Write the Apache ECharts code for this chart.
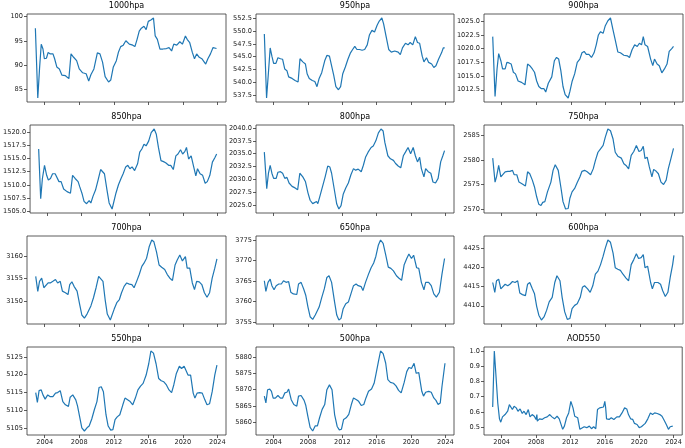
<!DOCTYPE html>
<html><head><meta charset="utf-8">
<script src="https://cdn.jsdelivr.net/npm/echarts@6/dist/echarts.min.js"></script>
<style>html,body{margin:0;padding:0;background:#fff}#c{width:685px;height:448px}</style>
</head><body><div id="c"></div>
<script>
// ---- data: [decimal year, value] ----
const p1000 = [[2002.92,97.6],[2003.2,83.2],[2003.4,89.2],[2003.6,94.3],[2003.8,93.3],[2003.96,91.3],[2004.2,91.4],[2004.4,92.6],[2004.65,92.3],[2004.96,92.3],[2005.15,91.3],[2005.4,89.6],[2005.7,89.2],[2006.0,87.9],[2006.4,87.8],[2006.8,87.2],[2007.05,92.3],[2007.35,91.6],[2007.7,90.9],[2008.0,89.2],[2008.4,88.4],[2008.8,88.2],[2009.1,86.7],[2009.35,88.0],[2009.7,89.2],[2010.1,92.5],[2010.4,92.3],[2010.7,90.6],[2011.0,87.6],[2011.4,86.5],[2011.65,86.9],[2011.95,89.6],[2012.3,90.9],[2012.55,92.7],[2012.8,93.8],[2013.1,94.1],[2013.4,95.0],[2013.8,94.3],[2014.2,94.1],[2014.45,93.8],[2014.7,95.3],[2014.95,97.0],[2015.2,97.6],[2015.5,98.0],[2015.75,97.3],[2016.0,99.0],[2016.3,99.3],[2016.6,99.7],[2016.8,96.0],[2017.05,95.3],[2017.35,93.3],[2017.7,93.3],[2018.1,93.4],[2018.4,93.6],[2018.7,92.9],[2018.95,94.3],[2019.3,94.1],[2019.65,94.8],[2019.95,94.3],[2020.3,96.0],[2020.5,95.3],[2020.8,94.6],[2021.1,92.6],[2021.35,91.3],[2021.6,92.3],[2021.9,91.6],[2022.2,91.3],[2022.4,91.1],[2022.65,90.2],[2022.9,91.3],[2023.2,92.3],[2023.5,93.6],[2023.7,94.0],[2023.9,93.4]];
const p950 = [[2002.92,549.4],[2003.18,537.0],[2003.4,542.0],[2003.6,546.7],[2003.8,545.1],[2004.0,543.7],[2004.27,543.7],[2004.5,544.8],[2004.8,544.6],[2005.05,544.5],[2005.3,542.6],[2005.55,542.3],[2005.75,541.1],[2006.15,540.8],[2006.5,540.4],[2006.85,540.1],[2007.07,544.6],[2007.4,544.0],[2007.7,543.6],[2007.9,541.7],[2008.15,540.8],[2008.5,540.4],[2008.8,540.2],[2009.05,539.2],[2009.3,540.8],[2009.6,541.9],[2009.95,544.2],[2010.2,545.25],[2010.5,545.1],[2010.7,543.6],[2011.0,541.4],[2011.25,539.2],[2011.55,538.6],[2011.8,539.2],[2012.05,541.7],[2012.35,543.0],[2012.65,544.5],[2012.95,545.75],[2013.2,546.4],[2013.45,547.0],[2013.7,546.4],[2014.0,546.4],[2014.3,546.25],[2014.6,546.4],[2014.9,547.3],[2015.15,549.2],[2015.45,550.1],[2015.75,549.8],[2016.05,551.1],[2016.3,551.9],[2016.6,552.5],[2016.8,551.4],[2017.1,548.9],[2017.4,546.4],[2017.7,545.9],[2018.1,546.1],[2018.5,545.9],[2018.75,545.4],[2019.0,546.7],[2019.35,547.6],[2019.65,547.3],[2019.9,547.75],[2020.2,547.3],[2020.5,548.9],[2020.75,547.75],[2021.0,547.6],[2021.3,545.1],[2021.5,544.0],[2021.8,544.8],[2022.05,543.9],[2022.4,543.6],[2022.65,542.9],[2022.9,543.25],[2023.2,544.5],[2023.55,545.75],[2023.75,546.7],[2023.92,546.7]];
const p900 = [[2002.96,1022.2],[2003.23,1011.3],[2003.46,1016.3],[2003.65,1019.1],[2003.9,1017.8],[2004.1,1016.3],[2004.4,1016.3],[2004.6,1017.5],[2004.85,1017.4],[2005.1,1017.2],[2005.35,1015.7],[2005.6,1015.4],[2005.9,1014.1],[2006.3,1013.85],[2006.7,1013.4],[2007.0,1017.2],[2007.25,1016.9],[2007.55,1016.3],[2007.8,1015.7],[2008.05,1014.1],[2008.3,1013.1],[2008.6,1012.7],[2008.9,1012.7],[2009.1,1012.1],[2009.4,1013.7],[2009.8,1014.85],[2010.1,1017.8],[2010.35,1018.4],[2010.6,1018.1],[2010.85,1016.0],[2011.1,1013.1],[2011.35,1011.6],[2011.7,1011.0],[2011.9,1012.2],[2012.15,1014.0],[2012.45,1015.4],[2012.75,1017.5],[2013.05,1018.1],[2013.3,1019.25],[2013.55,1019.5],[2013.8,1018.95],[2014.1,1018.95],[2014.4,1018.4],[2014.7,1019.25],[2014.95,1020.7],[2015.2,1022.5],[2015.45,1023.1],[2015.75,1022.8],[2016.0,1024.2],[2016.3,1025.1],[2016.6,1025.6],[2016.9,1023.4],[2017.15,1021.6],[2017.45,1019.4],[2017.75,1019.25],[2018.15,1018.8],[2018.55,1018.7],[2018.8,1018.4],[2019.1,1019.8],[2019.4,1020.7],[2019.7,1020.4],[2019.95,1021.0],[2020.2,1020.7],[2020.4,1022.2],[2020.6,1020.7],[2020.9,1020.4],[2021.25,1018.1],[2021.5,1016.9],[2021.7,1018.1],[2022.0,1017.2],[2022.25,1016.9],[2022.55,1015.6],[2022.85,1016.3],[2023.15,1017.2],[2023.4,1019.5],[2023.7,1020.0],[2023.9,1020.4]];
const p850 = [[2002.96,1516.8],[2003.2,1507.35],[2003.4,1511.2],[2003.65,1513.7],[2003.9,1511.8],[2004.1,1510.9],[2004.35,1511.2],[2004.6,1512.1],[2004.9,1512.1],[2005.1,1511.8],[2005.35,1510.6],[2005.6,1510.6],[2005.9,1509.2],[2006.3,1508.7],[2006.7,1508.4],[2006.95,1511.8],[2007.25,1511.2],[2007.6,1510.6],[2007.8,1509.6],[2008.05,1508.4],[2008.3,1506.85],[2008.6,1506.4],[2008.9,1507.0],[2009.1,1506.55],[2009.35,1507.8],[2009.65,1509.0],[2009.95,1510.9],[2010.25,1512.9],[2010.4,1513.2],[2010.7,1512.1],[2011.0,1509.0],[2011.25,1506.55],[2011.6,1505.4],[2011.75,1505.6],[2012.05,1508.4],[2012.35,1510.0],[2012.65,1511.2],[2012.9,1512.1],[2013.2,1513.4],[2013.45,1513.7],[2013.7,1513.05],[2013.95,1513.4],[2014.25,1512.7],[2014.6,1514.0],[2014.85,1516.2],[2015.1,1516.8],[2015.35,1517.7],[2015.6,1517.4],[2015.9,1518.3],[2016.2,1519.9],[2016.55,1520.6],[2016.8,1519.6],[2017.05,1517.1],[2017.35,1514.6],[2017.65,1514.4],[2017.9,1514.2],[2018.25,1513.7],[2018.5,1513.7],[2018.8,1512.9],[2019.1,1515.5],[2019.35,1515.85],[2019.65,1516.65],[2019.9,1515.85],[2020.15,1516.3],[2020.35,1517.1],[2020.6,1514.9],[2020.9,1515.5],[2021.2,1513.4],[2021.45,1511.7],[2021.65,1513.05],[2021.95,1512.1],[2022.25,1511.8],[2022.55,1510.3],[2022.8,1510.6],[2023.1,1511.8],[2023.4,1514.3],[2023.7,1515.2],[2023.9,1515.85]];
const p800 = [[2002.92,2035.3],[2003.2,2028.2],[2003.4,2031.2],[2003.6,2032.75],[2003.8,2031.2],[2004.0,2030.2],[2004.3,2030.2],[2004.5,2031.4],[2004.8,2031.5],[2005.05,2031.2],[2005.3,2030.2],[2005.55,2030.4],[2005.8,2029.3],[2006.15,2028.65],[2006.5,2028.35],[2006.8,2028.0],[2007.05,2031.2],[2007.4,2030.5],[2007.7,2029.6],[2008.0,2027.4],[2008.25,2025.95],[2008.55,2025.3],[2008.75,2025.5],[2009.0,2025.7],[2009.15,2025.3],[2009.4,2026.8],[2009.7,2028.65],[2010.0,2030.5],[2010.3,2032.6],[2010.55,2032.4],[2010.75,2031.2],[2011.1,2027.7],[2011.35,2025.2],[2011.6,2024.25],[2011.85,2024.9],[2012.1,2027.1],[2012.4,2028.35],[2012.7,2029.3],[2013.0,2030.9],[2013.3,2032.1],[2013.55,2031.8],[2013.85,2032.0],[2014.2,2031.5],[2014.45,2032.75],[2014.7,2034.3],[2015.0,2035.3],[2015.35,2036.2],[2015.6,2036.5],[2015.9,2037.5],[2016.2,2039.05],[2016.5,2039.8],[2016.75,2039.4],[2016.95,2037.2],[2017.3,2034.6],[2017.6,2034.0],[2017.95,2033.7],[2018.2,2033.1],[2018.5,2032.6],[2018.8,2032.25],[2019.1,2034.6],[2019.35,2035.3],[2019.65,2036.2],[2019.95,2035.0],[2020.25,2036.2],[2020.5,2034.6],[2020.75,2033.4],[2021.0,2034.3],[2021.2,2032.1],[2021.5,2030.5],[2021.7,2032.1],[2022.0,2031.5],[2022.3,2031.2],[2022.55,2029.5],[2022.85,2029.3],[2023.15,2030.2],[2023.45,2033.4],[2023.7,2034.6],[2023.9,2035.6]];
const p750 = [[2002.96,2580.4],[2003.23,2575.5],[2003.4,2576.55],[2003.65,2578.9],[2003.9,2576.55],[2004.1,2576.35],[2004.4,2577.6],[2004.7,2577.7],[2004.95,2577.7],[2005.25,2577.9],[2005.45,2577.0],[2005.75,2577.0],[2006.0,2575.5],[2006.3,2575.2],[2006.75,2574.7],[2007.0,2577.6],[2007.25,2577.2],[2007.55,2575.9],[2007.8,2574.5],[2008.05,2572.5],[2008.3,2570.95],[2008.55,2570.7],[2008.75,2571.35],[2009.0,2571.5],[2009.3,2573.5],[2009.7,2575.5],[2009.95,2577.9],[2010.2,2579.05],[2010.55,2577.9],[2010.85,2574.5],[2011.1,2571.5],[2011.4,2570.0],[2011.7,2570.1],[2011.9,2572.2],[2012.15,2573.5],[2012.45,2574.2],[2012.75,2575.4],[2013.05,2576.55],[2013.3,2577.7],[2013.6,2577.9],[2013.9,2577.6],[2014.3,2577.0],[2014.6,2578.2],[2014.85,2579.9],[2015.15,2581.6],[2015.45,2582.3],[2015.75,2583.0],[2016.0,2584.7],[2016.3,2586.35],[2016.6,2586.0],[2016.9,2584.3],[2017.15,2581.6],[2017.45,2580.8],[2017.85,2580.4],[2018.15,2579.25],[2018.4,2578.9],[2018.7,2578.2],[2019.0,2580.95],[2019.3,2581.75],[2019.6,2583.0],[2019.9,2581.75],[2020.15,2581.95],[2020.4,2582.8],[2020.6,2580.3],[2020.85,2580.6],[2021.1,2578.6],[2021.4,2576.55],[2021.6,2578.1],[2021.9,2577.7],[2022.15,2577.2],[2022.45,2575.5],[2022.75,2575.0],[2023.05,2575.9],[2023.3,2578.25],[2023.6,2580.3],[2023.9,2582.4]];
const p700 = [[2002.96,3155.5],[2003.2,3152.2],[2003.4,3154.4],[2003.65,3155.1],[2003.9,3153.0],[2004.1,3153.0],[2004.4,3154.05],[2004.65,3154.05],[2004.95,3154.4],[2005.25,3154.8],[2005.5,3154.05],[2005.8,3154.4],[2006.05,3152.25],[2006.4,3151.9],[2006.7,3151.5],[2006.9,3153.7],[2007.15,3154.3],[2007.4,3153.3],[2007.75,3152.25],[2008.05,3149.35],[2008.3,3147.0],[2008.6,3146.3],[2008.9,3147.2],[2009.1,3146.95],[2009.35,3149.0],[2009.65,3150.8],[2009.95,3153.0],[2010.25,3155.5],[2010.4,3155.9],[2010.75,3154.4],[2011.0,3150.4],[2011.25,3147.2],[2011.6,3145.9],[2011.8,3146.1],[2012.05,3148.3],[2012.35,3149.7],[2012.65,3150.4],[2012.9,3151.9],[2013.2,3153.3],[2013.5,3154.05],[2013.8,3153.8],[2014.1,3153.7],[2014.35,3153.0],[2014.65,3154.4],[2014.95,3155.9],[2015.25,3157.7],[2015.5,3158.4],[2015.8,3159.5],[2016.1,3162.0],[2016.4,3163.5],[2016.65,3163.1],[2016.95,3160.9],[2017.25,3158.0],[2017.55,3157.5],[2017.9,3157.0],[2018.2,3155.9],[2018.5,3155.1],[2018.8,3154.6],[2019.1,3158.0],[2019.35,3159.1],[2019.65,3160.2],[2019.95,3158.9],[2020.3,3159.85],[2020.5,3157.3],[2020.8,3157.3],[2021.1,3154.05],[2021.35,3152.6],[2021.6,3154.4],[2021.9,3154.3],[2022.2,3153.7],[2022.5,3151.9],[2022.8,3150.9],[2023.1,3151.9],[2023.4,3155.1],[2023.7,3157.3],[2023.95,3159.35]];
const p650 = [[2002.92,3765.1],[2003.1,3762.5],[2003.35,3764.7],[2003.6,3765.5],[2003.8,3763.9],[2004.05,3762.9],[2004.3,3763.9],[2004.6,3764.3],[2004.9,3764.3],[2005.15,3765.1],[2005.45,3764.7],[2005.75,3764.9],[2006.0,3762.3],[2006.3,3761.9],[2006.7,3761.75],[2006.9,3764.3],[2007.2,3764.7],[2007.5,3763.1],[2007.75,3761.5],[2008.0,3758.7],[2008.25,3756.35],[2008.55,3755.7],[2008.85,3756.75],[2009.05,3756.35],[2009.3,3758.7],[2009.6,3761.0],[2009.9,3763.1],[2010.2,3765.9],[2010.45,3766.3],[2010.75,3764.7],[2011.1,3759.9],[2011.35,3756.75],[2011.6,3755.55],[2011.85,3755.95],[2012.1,3758.3],[2012.4,3759.5],[2012.7,3759.9],[2013.0,3761.9],[2013.3,3763.9],[2013.6,3764.3],[2013.85,3763.9],[2014.2,3763.65],[2014.4,3762.7],[2014.7,3764.7],[2015.05,3766.7],[2015.35,3768.25],[2015.65,3769.4],[2015.9,3771.0],[2016.2,3773.8],[2016.45,3775.0],[2016.75,3774.2],[2017.05,3771.4],[2017.35,3768.4],[2017.65,3768.1],[2017.95,3767.5],[2018.3,3766.3],[2018.6,3765.7],[2018.9,3765.2],[2019.2,3769.0],[2019.5,3770.5],[2019.75,3771.6],[2020.05,3770.5],[2020.3,3771.3],[2020.65,3768.25],[2020.9,3768.1],[2021.2,3764.7],[2021.5,3762.9],[2021.7,3764.7],[2022.05,3764.7],[2022.35,3763.9],[2022.65,3761.9],[2022.95,3761.1],[2023.3,3762.3],[2023.6,3766.7],[2023.9,3770.5]];
const p600 = [[2002.96,4416.05],[2003.2,4413.5],[2003.4,4416.5],[2003.65,4416.9],[2003.9,4414.4],[2004.1,4414.4],[2004.4,4415.6],[2004.7,4415.2],[2004.95,4415.6],[2005.25,4416.3],[2005.55,4416.05],[2005.85,4416.5],[2006.1,4413.3],[2006.4,4412.9],[2006.75,4412.65],[2007.0,4415.6],[2007.25,4416.05],[2007.55,4414.4],[2007.8,4413.1],[2008.05,4409.85],[2008.3,4407.55],[2008.6,4406.3],[2008.9,4407.1],[2009.2,4408.8],[2009.5,4411.0],[2009.85,4412.2],[2010.15,4416.05],[2010.4,4417.8],[2010.75,4416.5],[2011.0,4412.2],[2011.3,4408.4],[2011.6,4406.45],[2011.9,4406.7],[2012.15,4409.25],[2012.45,4410.1],[2012.75,4410.5],[2013.1,4412.2],[2013.35,4414.8],[2013.6,4415.2],[2013.95,4414.4],[2014.25,4413.5],[2014.55,4415.2],[2014.85,4418.2],[2015.15,4419.0],[2015.45,4420.7],[2015.75,4422.9],[2016.0,4425.0],[2016.3,4427.1],[2016.6,4426.5],[2016.9,4423.7],[2017.15,4419.9],[2017.45,4419.5],[2017.75,4419.2],[2018.05,4418.2],[2018.4,4417.2],[2018.7,4416.5],[2019.0,4420.7],[2019.3,4422.0],[2019.6,4423.5],[2019.85,4422.3],[2020.15,4422.5],[2020.4,4423.3],[2020.6,4419.9],[2020.9,4420.3],[2021.25,4416.05],[2021.45,4414.4],[2021.7,4416.05],[2022.1,4416.05],[2022.4,4415.6],[2022.65,4413.9],[2022.95,4412.4],[2023.25,4413.5],[2023.55,4417.8],[2023.8,4420.7],[2023.95,4423.1]];
const p550 = [[2002.96,5114.95],[2003.15,5112.2],[2003.35,5115.5],[2003.6,5115.7],[2003.8,5114.3],[2004.05,5113.1],[2004.35,5114.3],[2004.65,5113.8],[2004.95,5113.8],[2005.25,5114.8],[2005.5,5114.95],[2005.8,5115.5],[2006.1,5112.4],[2006.4,5111.5],[2006.75,5111.05],[2006.95,5113.65],[2007.25,5114.3],[2007.6,5112.9],[2007.8,5111.2],[2008.05,5108.1],[2008.3,5105.0],[2008.6,5104.1],[2008.9,5105.0],[2009.15,5105.5],[2009.45,5107.5],[2009.75,5110.1],[2010.05,5112.4],[2010.3,5116.4],[2010.55,5116.6],[2010.8,5115.2],[2011.1,5108.7],[2011.35,5105.5],[2011.65,5104.35],[2011.9,5104.5],[2012.15,5107.3],[2012.4,5108.1],[2012.7,5108.7],[2013.05,5111.5],[2013.3,5113.4],[2013.6,5112.9],[2013.9,5112.4],[2014.2,5111.5],[2014.5,5113.4],[2014.8,5115.7],[2015.1,5116.8],[2015.4,5117.55],[2015.75,5119.9],[2016.05,5123.1],[2016.3,5126.7],[2016.6,5126.1],[2016.9,5123.1],[2017.2,5118.95],[2017.5,5118.3],[2017.8,5118.0],[2018.1,5117.1],[2018.4,5115.7],[2018.7,5114.95],[2018.95,5117.1],[2019.25,5120.35],[2019.6,5122.4],[2019.85,5121.75],[2020.15,5122.4],[2020.35,5122.95],[2020.6,5119.9],[2020.9,5119.9],[2021.2,5114.8],[2021.4,5113.4],[2021.65,5114.8],[2021.95,5114.95],[2022.25,5114.8],[2022.55,5112.9],[2022.8,5111.5],[2023.1,5111.8],[2023.4,5115.2],[2023.7,5119.9],[2023.95,5122.7]];
const p500 = [[2002.92,5868.0],[2003.1,5865.9],[2003.3,5870.0],[2003.55,5870.2],[2003.75,5869.5],[2003.95,5867.4],[2004.2,5867.4],[2004.5,5868.2],[2004.8,5867.4],[2005.05,5867.4],[2005.3,5869.0],[2005.55,5869.2],[2005.75,5870.2],[2006.05,5866.9],[2006.35,5865.4],[2006.7,5864.9],[2006.9,5868.0],[2007.2,5868.2],[2007.55,5866.7],[2007.75,5865.1],[2008.0,5861.6],[2008.25,5858.3],[2008.55,5857.2],[2008.85,5858.8],[2009.1,5858.8],[2009.35,5861.3],[2009.65,5863.9],[2009.95,5865.4],[2010.2,5870.0],[2010.5,5871.5],[2010.8,5870.0],[2011.1,5862.3],[2011.4,5858.6],[2011.65,5857.55],[2011.9,5857.75],[2012.15,5860.8],[2012.45,5861.3],[2012.75,5862.35],[2013.05,5865.4],[2013.3,5867.45],[2013.65,5866.9],[2013.9,5866.4],[2014.2,5865.1],[2014.5,5865.4],[2014.75,5867.45],[2015.05,5869.5],[2015.4,5870.2],[2015.7,5872.0],[2015.9,5874.6],[2016.2,5878.7],[2016.45,5882.0],[2016.75,5881.2],[2017.05,5878.2],[2017.3,5873.1],[2017.6,5872.25],[2017.95,5872.0],[2018.25,5871.2],[2018.55,5869.8],[2018.85,5869.0],[2019.2,5872.25],[2019.5,5875.6],[2019.75,5876.9],[2020.05,5876.6],[2020.35,5878.2],[2020.6,5875.1],[2020.9,5875.3],[2021.25,5869.5],[2021.45,5868.0],[2021.7,5869.2],[2022.05,5869.5],[2022.35,5869.2],[2022.65,5867.45],[2022.9,5866.7],[2023.15,5865.4],[2023.4,5865.9],[2023.6,5871.0],[2023.8,5875.1],[2023.95,5878.2]];
const pAOD = [[2002.96,0.632],[2003.15,1.0],[2003.35,0.831],[2003.55,0.658],[2003.75,0.554],[2003.9,0.532],[2004.1,0.567],[2004.4,0.582],[2004.7,0.604],[2004.9,0.647],[2005.1,0.654],[2005.25,0.615],[2005.45,0.636],[2005.7,0.626],[2005.9,0.604],[2006.15,0.619],[2006.4,0.589],[2006.6,0.604],[2006.85,0.582],[2007.1,0.615],[2007.3,0.567],[2007.55,0.582],[2007.8,0.571],[2008.0,0.55],[2008.1,0.582],[2008.15,0.539],[2008.4,0.554],[2008.7,0.55],[2009.0,0.561],[2009.3,0.567],[2009.6,0.582],[2009.85,0.567],[2010.15,0.554],[2010.45,0.571],[2010.7,0.554],[2010.9,0.561],[2011.1,0.485],[2011.3,0.506],[2011.55,0.561],[2011.8,0.593],[2012.05,0.669],[2012.3,0.626],[2012.5,0.571],[2012.85,0.561],[2013.1,0.485],[2013.3,0.474],[2013.6,0.502],[2013.9,0.496],[2014.2,0.506],[2014.45,0.489],[2014.7,0.502],[2014.95,0.489],[2015.15,0.615],[2015.4,0.626],[2015.6,0.626],[2015.85,0.632],[2016.0,0.669],[2016.1,0.626],[2016.2,0.554],[2016.5,0.55],[2016.75,0.561],[2017.05,0.55],[2017.4,0.567],[2017.7,0.567],[2018.0,0.593],[2018.3,0.626],[2018.55,0.619],[2018.75,0.582],[2019.0,0.554],[2019.25,0.55],[2019.45,0.524],[2019.75,0.517],[2020.0,0.496],[2020.25,0.502],[2020.45,0.496],[2020.7,0.524],[2021.0,0.554],[2021.3,0.593],[2021.55,0.582],[2021.8,0.593],[2022.1,0.589],[2022.4,0.582],[2022.65,0.571],[2022.9,0.545],[2023.15,0.517],[2023.4,0.485],[2023.6,0.502],[2023.9,0.506]];

// ---- titles and tick labels ----
const titles = ['1000hpa','950hpa','900hpa','850hpa','800hpa','750hpa','700hpa','650hpa','600hpa','550hpa','500hpa','AOD550'];
const xTicks = [2004, 2008, 2012, 2016, 2020, 2024];
const yT1000 = [85, 90, 95, 100];
const yT950 = [537.5, 540.0, 542.5, 545.0, 547.5, 550.0, 552.5];
const yT900 = [1012.5, 1015.0, 1017.5, 1020.0, 1022.5, 1025.0];
const yT850 = [1505.0, 1507.5, 1510.0, 1512.5, 1515.0, 1517.5, 1520.0];
const yT800 = [2025.0, 2027.5, 2030.0, 2032.5, 2035.0, 2037.5, 2040.0];
const yT750 = [2570, 2575, 2580, 2585];
const yT700 = [3145, 3150, 3155, 3160];
const yT650 = [3755, 3760, 3765, 3770, 3775];
const yT600 = [4405, 4410, 4415, 4420, 4425];
const yT550 = [5105, 5110, 5115, 5120, 5125];
const yT500 = [5860, 5865, 5870, 5875, 5880];
const yTAOD = [0.5, 0.6, 0.7, 0.8, 0.9, 1.0];
const yDecimals = [0, 1, 1, 1, 1, 0, 0, 0, 0, 0, 0, 1];

const seriesData = [p1000, p950, p900, p850, p800, p750, p700, p650, p600, p550, p500, pAOD];
const yTicks = [yT1000, yT950, yT900, yT850, yT800, yT750, yT700, yT650, yT600, yT550, yT500, yTAOD];

// ---- layout ----
const colLeft = [27, 256, 484], colW = [199, 198, 199];
const rowTop = [14, 125, 236, 347], rowH = 88;
const X_MIN = 2001.95, X_MAX = 2025.0;
const LINE = '#1f77b4', INK = '#333';
const FONT = 'DejaVu Sans';

const grids = [], xAxes = [], yAxes = [], series = [], titleOpts = [];
for (let i = 0; i < 12; i++) {
  const r = Math.floor(i / 3), c = i % 3;
  grids.push({left: colLeft[c], top: rowTop[r], width: colW[c], height: rowH,
    show: true, borderColor: INK, borderWidth: 0.8, backgroundColor: 'transparent', containLabel: false});
  const dec = yDecimals[i];
  xAxes.push({type: 'value', gridIndex: i, min: X_MIN, max: X_MAX,
    axisLine: {show: false}, splitLine: {show: false},
    axisTick: {show: true, inside: false, length: 3, lineStyle: {color: INK, width: 0.8}, customValues: xTicks},
    axisLabel: {show: r === 3, customValues: xTicks, color: '#222', fontSize: 6.6, fontFamily: FONT, margin: 4,
      formatter: v => String(Math.round(v))}});
  yAxes.push({type: 'value', gridIndex: i,
    min: v => v.min - 0.05 * (v.max - v.min),
    max: v => v.max + 0.05 * (v.max - v.min),
    axisLine: {show: false}, splitLine: {show: false},
    axisTick: {show: true, inside: false, length: 3, lineStyle: {color: INK, width: 0.8}, customValues: yTicks[i]},
    axisLabel: {show: true, customValues: yTicks[i], color: '#222', fontSize: 6.6, fontFamily: FONT, margin: 4,
      formatter: v => Number(v).toFixed(dec)}});
  series.push({type: 'line', xAxisIndex: i, yAxisIndex: i, data: seriesData[i], showSymbol: false,
    symbol: 'none', lineStyle: {color: LINE, width: 1.2}, animation: false, silent: true});
  titleOpts.push({text: titles[i], left: colLeft[c] + colW[c] / 2, top: rowTop[r] - 12, textAlign: 'center',
    textStyle: {fontSize: 8, fontWeight: 'normal', color: '#000', fontFamily: FONT}, padding: 0});
}

const chart = echarts.init(document.getElementById('c'), null, {renderer: 'canvas'});
chart.setOption({animation: false, backgroundColor: '#fff', title: titleOpts,
  grid: grids, xAxis: xAxes, yAxis: yAxes, series: series});
</script></body></html>
